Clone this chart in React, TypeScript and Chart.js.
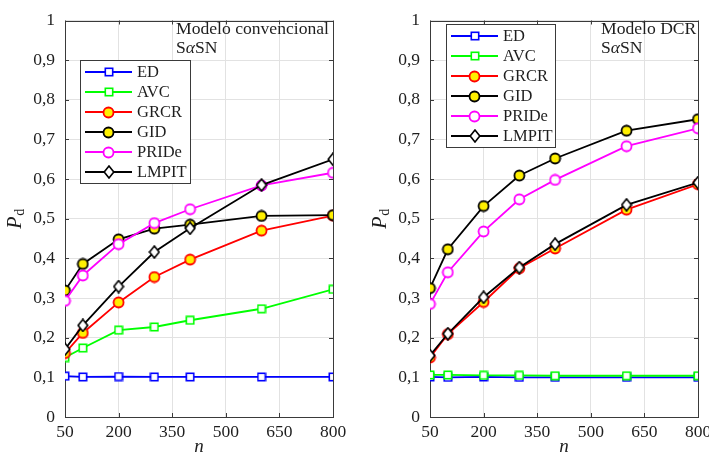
import React, { useEffect, useRef } from 'react';
import { Chart, registerables } from 'chart.js';

Chart.register(...registerables);

// Sample sizes n and axis ticks
const sampleSizes = [50, 100, 200, 300, 400, 600, 800];
const xTickValues = [50, 200, 350, 500, 650, 800];
const yTickValues = [0, 0.1, 0.2, 0.3, 0.4, 0.5, 0.6, 0.7, 0.8, 0.9, 1];

const seriesNames = ['ED', 'AVC', 'GRCR', 'GID', 'PRIDe', 'LMPIT'];

// Modelo convencional, SαSN noise
const convED = [0.103, 0.101, 0.102, 0.101, 0.101, 0.101, 0.101];
const convAVC = [0.150, 0.174, 0.219, 0.227, 0.244, 0.273, 0.322];
const convGRCR = [0.161, 0.212, 0.289, 0.353, 0.397, 0.470, 0.508];
const convGID = [0.319, 0.386, 0.448, 0.475, 0.485, 0.507, 0.509];
const convPRIDe = [0.293, 0.357, 0.436, 0.489, 0.524, 0.584, 0.616];
const convLMPIT = [0.171, 0.231, 0.329, 0.416, 0.476, 0.585, 0.650];

// Modelo DCR, SαSN noise
const dcrED = [0.101, 0.100, 0.101, 0.100, 0.100, 0.100, 0.100];
const dcrAVC = [0.106, 0.106, 0.105, 0.105, 0.104, 0.104, 0.104];
const dcrGRCR = [0.150, 0.209, 0.290, 0.375, 0.425, 0.523, 0.587];
const dcrGID = [0.325, 0.423, 0.532, 0.609, 0.652, 0.722, 0.751];
const dcrPRIDe = [0.285, 0.365, 0.468, 0.549, 0.598, 0.683, 0.728];
const dcrLMPIT = [0.155, 0.210, 0.302, 0.377, 0.436, 0.535, 0.591];

const FONT = '"Liberation Serif", "Times New Roman", serif';
const TEXT = '#1e1e1e';
const GRID = '#e2e2e2';
const YELLOW = '#fff000';

type MarkerKind = 'square' | 'circle' | 'diamond';
interface Style { color: string; marker: MarkerKind; fill: string; }

const styles: Style[] = [
  { color: '#0000ff', marker: 'square', fill: '#ffffff' },
  { color: '#00ff00', marker: 'square', fill: '#ffffff' },
  { color: '#ff0000', marker: 'circle', fill: YELLOW },
  { color: '#000000', marker: 'circle', fill: YELLOW },
  { color: '#ff00ff', marker: 'circle', fill: '#ffffff' },
  { color: '#000000', marker: 'diamond', fill: '#ffffff' },
];

function makeMarker(s: Style): HTMLCanvasElement {
  const c = document.createElement('canvas');
  const ctx = c.getContext('2d')!;
  if (s.marker === 'square') {
    c.width = 10; c.height = 10;
    ctx.lineWidth = 1.6;
    ctx.fillStyle = s.fill;
    ctx.strokeStyle = s.color;
    ctx.fillRect(1, 1, 8, 8);
    ctx.strokeRect(1.3, 1.3, 7.4, 7.4);
  } else if (s.marker === 'circle') {
    c.width = 13; c.height = 13;
    ctx.lineWidth = 1.8;
    ctx.fillStyle = s.fill;
    ctx.strokeStyle = s.color;
    ctx.beginPath();
    ctx.arc(6.5, 6.5, 5.0, 0, Math.PI * 2);
    ctx.fill();
    ctx.stroke();
  } else {
    c.width = 12; c.height = 14;
    ctx.lineWidth = 1.6;
    ctx.fillStyle = s.fill;
    ctx.strokeStyle = s.color;
    ctx.beginPath();
    ctx.moveTo(6, 1);
    ctx.lineTo(10.8, 7);
    ctx.lineTo(6, 13);
    ctx.lineTo(1.2, 7);
    ctx.closePath();
    ctx.fill();
    ctx.stroke();
  }
  return c;
}

function fmtY(v: number): string {
  if (Math.abs(v) < 1e-9) return '0';
  if (Math.abs(v - 1) < 1e-9) return '1';
  return v.toFixed(1).replace('.', ',');
}

interface PanelProps {
  series: number[][];
  titleLine: string;
  legendX: number;
  legendY: number;
  legendW: number;
  textX: number;
  left: number;
}

const decorPlugin = {
  id: 'panelDecor',
  beforeDatasetsDraw(chart: any) {
    const { ctx, chartArea: ca } = chart;
    const xs = chart.scales.x;
    const ys = chart.scales.y;
    ctx.save();
    ctx.strokeStyle = '#3a3a3a';
    ctx.lineWidth = 1;
    ctx.strokeRect(Math.round(ca.left) + 0.5, Math.round(ca.top) + 0.5,
      Math.round(ca.right) - Math.round(ca.left), Math.round(ca.bottom) - Math.round(ca.top));
    const tl = 4;
    ctx.beginPath();
    xTickValues.forEach((v) => {
      const x = Math.round(xs.getPixelForValue(v)) + 0.5;
      ctx.moveTo(x, ca.bottom); ctx.lineTo(x, ca.bottom - tl);
      ctx.moveTo(x, ca.top); ctx.lineTo(x, ca.top + tl);
    });
    yTickValues.forEach((v) => {
      const y = Math.round(ys.getPixelForValue(v)) + 0.5;
      ctx.moveTo(ca.left, y); ctx.lineTo(ca.left + tl, y);
      ctx.moveTo(ca.right, y); ctx.lineTo(ca.right - tl, y);
    });
    ctx.stroke();
    ctx.restore();
  },
  afterDatasetsDraw(chart: any, _args: any, opts: any) {
    const { ctx, chartArea: ca } = chart;
    ctx.save();
    // model annotation, top right
    ctx.fillStyle = TEXT;
    ctx.textBaseline = 'alphabetic';
    ctx.textAlign = 'left';
    ctx.font = `17.6px ${FONT}`;
    ctx.fillText(opts.titleLine, opts.textX, 33.5);
    let x = opts.textX;
    ctx.fillText('S', x, 53);
    x += ctx.measureText('S').width;
    ctx.font = `italic 17.6px ${FONT}`;
    ctx.fillText('α', x, 53);
    x += ctx.measureText('α').width;
    ctx.font = `17.6px ${FONT}`;
    ctx.fillText('SN', x, 53);

    // legend box
    const lx = opts.legendX, ly = opts.legendY, lw = opts.legendW, lh = 123;
    ctx.fillStyle = '#ffffff';
    ctx.fillRect(lx, ly, lw, lh);
    ctx.strokeStyle = '#3a3a3a';
    ctx.lineWidth = 1;
    ctx.strokeRect(lx + 0.5, ly + 0.5, lw, lh);
    chart.data.datasets.forEach((ds: any, i: number) => {
      const y = ly + 12 + i * 20;
      ctx.strokeStyle = ds.borderColor;
      ctx.lineWidth = ds.borderWidth;
      ctx.beginPath();
      ctx.moveTo(lx + 5, y);
      ctx.lineTo(lx + 52, y);
      ctx.stroke();
      const img = ds.pointStyle as HTMLCanvasElement;
      ctx.drawImage(img, Math.round(lx + 28.5 - img.width / 2), Math.round(y - img.height / 2));
      ctx.fillStyle = TEXT;
      ctx.font = `16.5px ${FONT}`;
      ctx.textBaseline = 'middle';
      ctx.fillText(ds.label, lx + 57, y + 1);
    });

    // axis titles
    ctx.fillStyle = TEXT;
    ctx.textBaseline = 'alphabetic';
    ctx.textAlign = 'left';
    ctx.font = `italic 19px ${FONT}`;
    const cx = (ca.left + ca.right) / 2;
    const nw = ctx.measureText('n').width;
    ctx.fillText('n', cx - nw / 2, 452);

    ctx.save();
    ctx.translate(21, (ca.top + ca.bottom) / 2);
    ctx.rotate(-Math.PI / 2);
    ctx.font = `italic 20px ${FONT}`;
    const pw = ctx.measureText('P').width;
    ctx.font = `14px ${FONT}`;
    const dw = ctx.measureText('d').width;
    const start = -(pw + dw + 1) / 2;
    ctx.font = `italic 20px ${FONT}`;
    ctx.fillText('P', start, 0);
    ctx.font = `14px ${FONT}`;
    ctx.fillText('d', start + pw + 1, 3);
    ctx.restore();

    ctx.restore();
  },
};

function Panel(props: PanelProps) {
  const ref = useRef<HTMLCanvasElement>(null);
  useEffect(() => {
    const canvas = ref.current!;
    const datasets = props.series.map((vals, i) => {
      const st = styles[i];
      return {
        label: seriesNames[i],
        data: sampleSizes.map((n, k) => ({ x: n, y: vals[k] })),
        borderColor: st.color,
        backgroundColor: st.fill,
        borderWidth: 1.8,
        pointStyle: makeMarker(st),
        pointRadius: 5,
        pointHoverRadius: 5,
        tension: 0,
        order: seriesNames.length - i,
      };
    });
    const chart = new Chart(canvas, {
      type: 'line',
      data: { datasets },
      options: {
        animation: false,
        responsive: false,
        devicePixelRatio: 1,
        events: [],
        layout: { padding: { left: 0, right: 32, top: 16, bottom: 0 } },
        plugins: {
          legend: { display: false },
          tooltip: { enabled: false },
          panelDecor: {
            titleLine: props.titleLine,
            legendX: props.legendX,
            legendY: props.legendY,
            legendW: props.legendW,
            textX: props.textX,
          },
        } as any,
        scales: {
          x: {
            type: 'linear',
            min: 50,
            max: 800,
            afterBuildTicks: (s: any) => { s.ticks = xTickValues.map((v) => ({ value: v })); },
            afterFit: (s: any) => { s.height = 43; },
            grid: { color: GRID, lineWidth: 1, drawTicks: false },
            border: { display: false },
            ticks: {
              padding: 5,
              color: TEXT,
              font: { family: FONT, size: 17.5 },
              maxRotation: 0,
              autoSkip: false,
              callback: (v: any) => String(v),
            },
          },
          y: {
            type: 'linear',
            min: 0,
            max: 1,
            afterBuildTicks: (s: any) => { s.ticks = yTickValues.map((v) => ({ value: v })); },
            afterFit: (s: any) => { s.width = 65; },
            grid: { color: GRID, lineWidth: 1, drawTicks: false },
            border: { display: false },
            ticks: {
              padding: 10,
              color: TEXT,
              font: { family: FONT, size: 17.5 },
              autoSkip: false,
              callback: (v: any) => fmtY(Number(v)),
            },
          },
        },
      },
      plugins: [decorPlugin],
    });
    return () => chart.destroy();
  }, []);
  return (
    <canvas
      ref={ref}
      width={365}
      height={460}
      style={{ position: 'absolute', left: props.left, top: 0, width: 365, height: 460, display: 'block' }}
    />
  );
}

export default function App() {
  return (
    <div
      style={{
        position: 'absolute',
        left: 0,
        top: 0,
        width: 709,
        height: 460,
        overflow: 'hidden',
        background: '#ffffff',
      }}
    >
      <Panel
        series={[convED, convAVC, convGRCR, convGID, convPRIDe, convLMPIT]}
        titleLine="Modelo convencional"
        legendX={80}
        legendY={60}
        legendW={110}
        textX={176}
        left={0}
      />
      <Panel
        series={[dcrED, dcrAVC, dcrGRCR, dcrGID, dcrPRIDe, dcrLMPIT]}
        titleLine="Modelo DCR"
        legendX={81}
        legendY={24}
        legendW={109}
        textX={236}
        left={365}
      />
    </div>
  );
}
